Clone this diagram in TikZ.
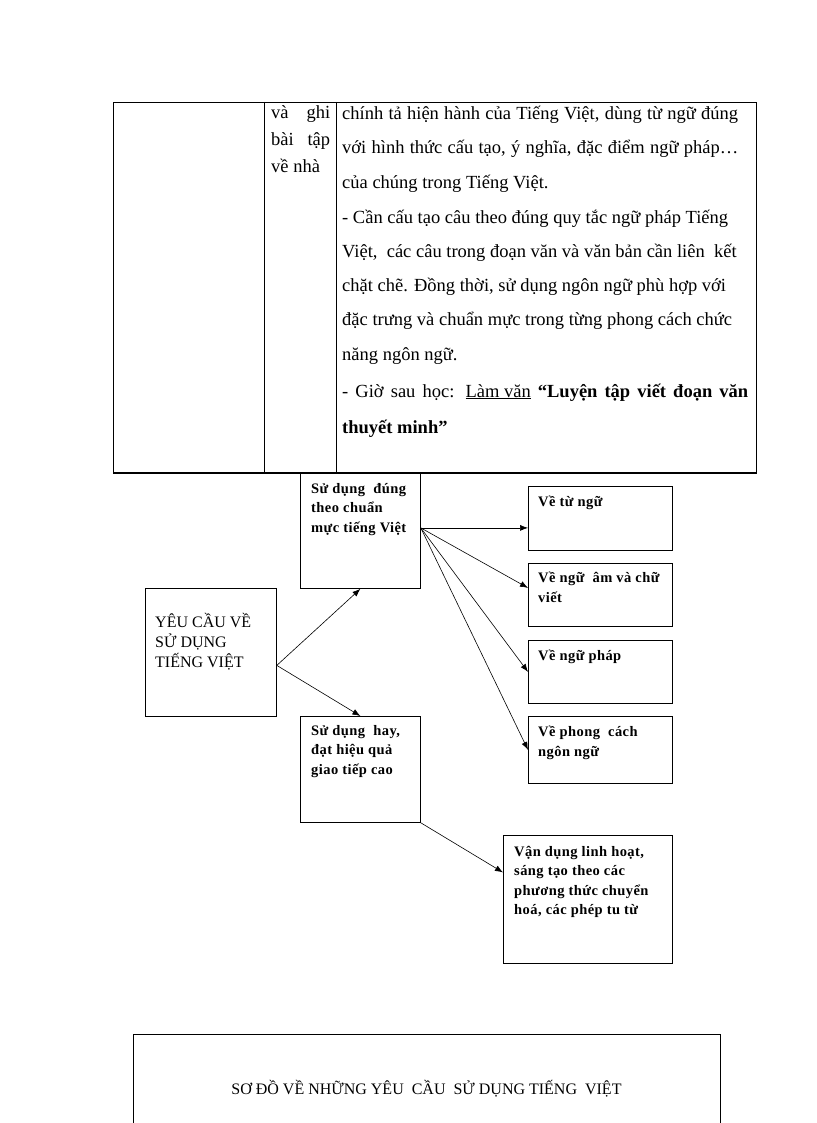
\documentclass[tikz,border=0pt]{standalone}
\usepackage{fontspec}
\setmainfont{Liberation Serif}
\newfontfamily\boxfont[LetterSpace=3]{Liberation Serif}
\usetikzlibrary{arrows.meta}

\tikzset{
  cell/.style={anchor=base west, inner sep=0pt, font=\fontsize{18.5}{20}\selectfont},
  blk/.style={draw, rectangle, line width=0.8pt, anchor=north west, inner sep=0pt},
  txt/.style={anchor=north west, inner sep=0pt, align=left, font=\boxfont\bfseries\fontsize{14.5}{19.5}\selectfont},
  arr/.style={-{Latex[length=8pt,width=6pt]}, line width=0.6pt},
}

\begin{document}
\begin{tikzpicture}[x=1pt, y=-1pt]
\useasboundingbox (0,0) rectangle (816,1123);
% table on top
\draw[line width=0.8pt] (113,102) rectangle (756,473);
\draw[line width=0.8pt] (264,102) -- (264,473);
\draw[line width=0.8pt] (336,102) -- (336,473);
\draw[line width=1.6pt] (113,473) -- (756,473);
\node[cell] (ghi) at (271,119) {\makebox[59pt][s]{và ghi}};
\node[cell] (baitap) at (271,146) {\makebox[59pt][s]{bài tập}};
\node[cell] (venha) at (271,173) {về nhà};
\node[cell] (l1) at (342,120) {\makebox[396pt][s]{chính tả hiện hành của Tiếng Việt, dùng từ ngữ đúng}};
\node[cell] (l2) at (342,154) {\makebox[396pt][s]{với hình thức cấu tạo, ý nghĩa, đặc điểm ngữ pháp…}};
\node[cell] (l3) at (342,189) {của chúng trong Tiếng Việt.};
\node[cell] (l4) at (342,223) {- Cần cấu tạo câu theo đúng quy tắc ngữ pháp Tiếng};
\node[cell] (l5) at (342,257) {Việt,\ \ các câu trong đoạn văn và văn bản cần liên\ \ kết};
\node[cell] (l6) at (342,291) {chặt chẽ. Đồng thời, sử dụng ngôn ngữ phù hợp với};
\node[cell] (l7) at (342,325) {đặc trưng và chuẩn mực trong từng phong cách chức};
\node[cell] (l8) at (342,360) {năng ngôn ngữ.};
\node[cell] (l9) at (342,397) {\makebox[406pt][s]{- Giờ sau học: \underline{Làm văn} \textbf{“Luyện tập viết đoạn văn}}};
\node[cell] (l10) at (342,433) {\textbf{thuyết minh”}};
% diagram
\node[blk, minimum width=131pt, minimum height=128pt] (yeucau) at (145,588) {};
\node[blk, minimum width=120pt, minimum height=115pt] (dung) at (300,473) {};
\node[blk, minimum width=120pt, minimum height=106pt] (hay) at (300,716) {};
\node[blk, minimum width=144pt, minimum height=64pt] (tu) at (528,486) {};
\node[blk, minimum width=144pt, minimum height=63pt] (am) at (528,563) {};
\node[blk, minimum width=144pt, minimum height=63pt] (phap) at (528,640) {};
\node[blk, minimum width=144pt, minimum height=67pt] (phong) at (528,716) {};
\node[blk, minimum width=169pt, minimum height=128pt] (vandung) at (503,835) {};
\node[txt, font=\fontsize{16}{20}\selectfont] (yeucau txt) at (155,613) {YÊU CẦU VỀ\\SỬ DỤNG\\TIẾNG VIỆT};
\node[txt] (dung txt) at (311,483) {Sử dụng\ \ đúng\\theo chuẩn\\mực tiếng Việt};
\node[txt] (hay txt) at (311,725) {Sử dụng\ \ hay,\\đạt hiệu quả\\giao tiếp cao};
\node[txt] (tu txt) at (538,496) {Về từ ngữ};
\node[txt] (am txt) at (538,572) {Về ngữ\ \ âm và chữ\\viết};
\node[txt] (phap txt) at (538,650) {Về ngữ pháp};
\node[txt] (phong txt) at (538,726) {Về phong\ \ cách\\ngôn ngữ};
\node[txt] (vandung txt) at (514,846) {Vận dụng linh hoạt,\\sáng tạo theo các\\phương thức chuyển\\hoá, các phép tu từ};
\node[draw, line width=0.8pt, minimum width=587pt, minimum height=110pt, font=\fontsize{16}{20}\selectfont] (title) at (426.5,1089) {SƠ ĐỒ VỀ NHỮNG YÊU\ \ CẦU\ \ SỬ DỤNG TIẾNG\ \ VIỆT};
% arrows
\coordinate (yeu out) at ([yshift=-13pt]yeucau.east);
\coordinate (dung out) at ([yshift=3pt]dung.east);
\draw[arr] (yeu out) -- (dung.south);
\draw[arr] (yeu out) -- (hay.north);
\draw[arr] (dung out) -- (tu.west |- dung out);
\draw[arr] (dung out) -- ([yshift=7pt]am.west);
\draw[arr] (dung out) -- (phap.west);
\draw[arr] (dung out) -- (phong.west);
\draw[arr] (hay.south east) -- ([yshift=27pt]vandung.west);
\end{tikzpicture}
\end{document}
